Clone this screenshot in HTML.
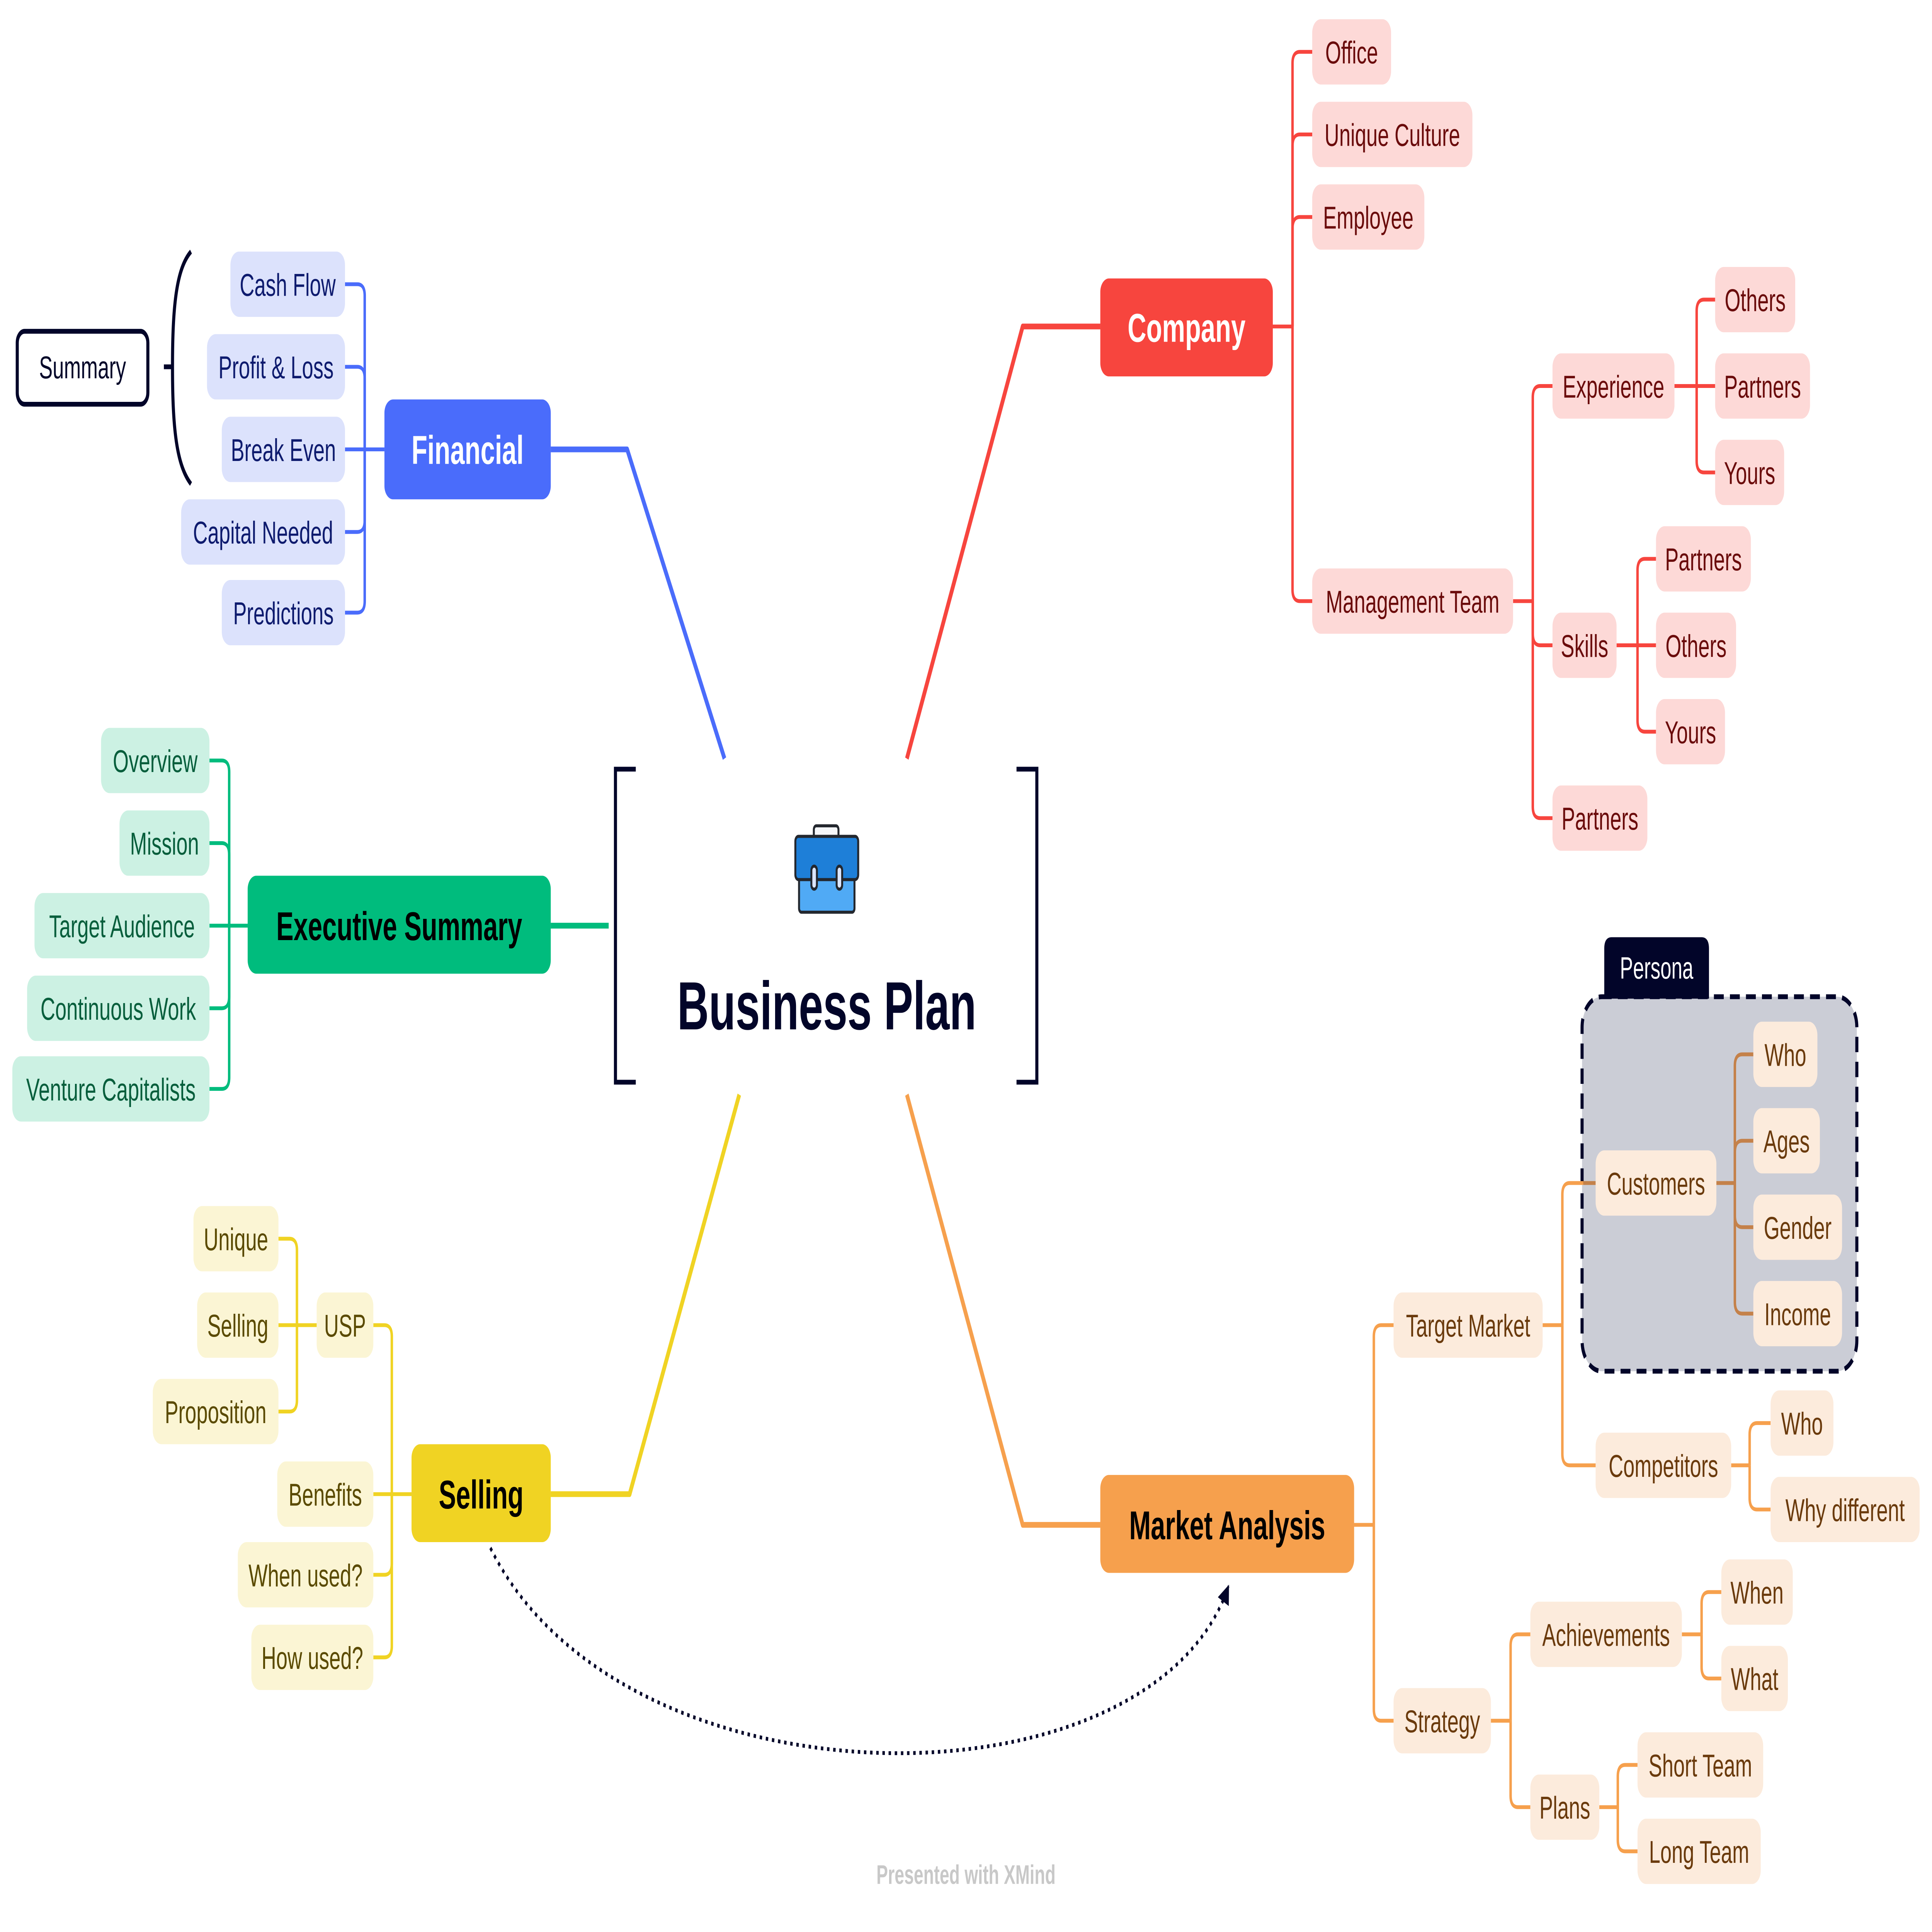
<!DOCTYPE html>
<html>
<head>
<meta charset="utf-8">
<style>
html,body{margin:0;padding:0;background:#ffffff;width:100%;height:100%;overflow:hidden;}
svg{display:block;width:100vw;height:100vh;}
text{font-family:"Liberation Sans",Arial,sans-serif;}
.c{font-size:16.5px;text-anchor:middle;}
.m{font-size:21px;font-weight:bold;text-anchor:middle;}
</style>
</head>
<body>
<svg xmlns="http://www.w3.org/2000/svg" viewBox="0 0 1568 1006" preserveAspectRatio="none">
<defs>
<marker id="arr" viewBox="0 0 10 10" refX="9" refY="5" markerWidth="5" markerHeight="5" orient="auto" markerUnits="strokeWidth">
<path d="M0,0 L10,5 L0,10 z" fill="#020529"/>
</marker>
</defs>
<rect x="0" y="0" width="1568" height="1006" fill="#ffffff"/>

<!-- Main connectors -->
<g fill="none" stroke-width="3" stroke-linejoin="round">
<path d="M447,234 H509 L588,395" stroke="#4A6CFB"/>
<path d="M736,395 L830,170 H893" stroke="#F7453E"/>
<path d="M447,482 H494" stroke="#00BC7D"/>
<path d="M600,570 L511,778 H447" stroke="#F0D323"/>
<path d="M736,570 L830,794 H893" stroke="#F6A04D"/>
</g>

<!-- Persona boundary -->
<rect x="1284" y="519" width="223" height="195" rx="16" fill="#CBCDD6" stroke="#020529" stroke-width="2.5" stroke-dasharray="8 5"/>
<path d="M1302,520 V494 Q1302,488 1308,488 H1381 Q1387,488 1387,494 V520 Z" fill="#020529"/>
<text x="1344.5" y="509.5" class="c" fill="#ffffff" style="font-size:16px">Persona</text>

<!-- Child connectors -->
<g fill="none" stroke-width="2" stroke-linejoin="round">
<g stroke="#4A6CFB">
<path d="M312,234 H280"/>
<path d="M296,234 V154 Q296,148 290,148 H280"/>
<path d="M296,234 V197 Q296,191 290,191 H280"/>
<path d="M296,234 V271 Q296,277 290,277 H280"/>
<path d="M296,234 V313 Q296,319 290,319 H280"/>
</g>
<g stroke="#00BC7D">
<path d="M201,482 H170"/>
<path d="M186,482 V402 Q186,396 180,396 H170"/>
<path d="M186,482 V445 Q186,439 180,439 H170"/>
<path d="M186,482 V519 Q186,525 180,525 H170"/>
<path d="M186,482 V561 Q186,567 180,567 H170"/>
</g>
<g stroke="#F0D323">
<path d="M334,778 H303"/>
<path d="M318,778 V696 Q318,690 312,690 H303"/>
<path d="M318,778 V814 Q318,820 312,820 H303"/>
<path d="M318,778 V857 Q318,863 312,863 H303"/>
<path d="M257,690 H226"/>
<path d="M241,690 V651 Q241,645 235,645 H226"/>
<path d="M241,690 V729 Q241,735 235,735 H226"/>
</g>
<g stroke="#F7453E">
<path d="M1033,170 H1049"/>
<path d="M1049,170 V33 Q1049,27 1055,27 H1065"/>
<path d="M1049,170 V76 Q1049,70 1055,70 H1065"/>
<path d="M1049,170 V119 Q1049,113 1055,113 H1065"/>
<path d="M1049,170 V307 Q1049,313 1055,313 H1065"/>
<path d="M1228,313 H1244"/>
<path d="M1244,313 V207 Q1244,201 1250,201 H1260"/>
<path d="M1244,313 V330 Q1244,336 1250,336 H1260"/>
<path d="M1244,313 V420 Q1244,426 1250,426 H1260"/>
<path d="M1359,201 H1392"/>
<path d="M1377,201 V162 Q1377,156 1383,156 H1392"/>
<path d="M1377,201 V240 Q1377,246 1383,246 H1392"/>
<path d="M1312,336 H1344"/>
<path d="M1329,336 V297 Q1329,291 1335,291 H1344"/>
<path d="M1329,336 V375 Q1329,381 1335,381 H1344"/>
</g>
<g stroke="#F6A04D">
<path d="M1099,794 H1115"/>
<path d="M1115,794 V696 Q1115,690 1121,690 H1131"/>
<path d="M1115,794 V890 Q1115,896 1121,896 H1131"/>
<path d="M1252,690 H1268"/>
<path d="M1268,690 V622 Q1268,616 1274,616 H1285"/>
<path d="M1268,690 V757 Q1268,763 1274,763 H1295"/>
<path d="M1405,763 H1420"/>
<path d="M1420,763 V747 Q1420,741 1426,741 H1437"/>
<path d="M1420,763 V780 Q1420,786 1426,786 H1437"/>
<path d="M1210,896 H1226"/>
<path d="M1226,896 V857 Q1226,851 1232,851 H1242"/>
<path d="M1226,896 V935 Q1226,941 1232,941 H1242"/>
<path d="M1365,851 H1381"/>
<path d="M1381,851 V835 Q1381,829 1387,829 H1397"/>
<path d="M1381,851 V868 Q1381,874 1387,874 H1397"/>
<path d="M1298,941 H1313"/>
<path d="M1313,941 V925 Q1313,919 1319,919 H1329"/>
<path d="M1313,941 V958 Q1313,964 1319,964 H1329"/>
</g>
<g stroke="#C4814A">
<path d="M1285,616 H1295"/>
<path d="M1393,616 H1408"/>
<path d="M1408,616 V555 Q1408,549 1414,549 H1423"/>
<path d="M1408,616 V600 Q1408,594 1414,594 H1423"/>
<path d="M1408,616 V633 Q1408,639 1414,639 H1423"/>
<path d="M1408,616 V678 Q1408,684 1414,684 H1423"/>
</g>
</g>

<!-- Summary + brace -->
<rect x="14" y="172.5" width="106" height="38" rx="6" fill="#ffffff" stroke="#020529" stroke-width="2.5"/>
<text x="67" y="197" class="c" fill="#020529">Summary</text>
<path d="M155,131 C143,140 140,160 140,191 C140,222 143,242 155,252" fill="none" stroke="#020529" stroke-width="2.5"/>
<path d="M133,191 H140" stroke="#020529" stroke-width="2.5"/>

<!-- Financial children -->
<g fill="#DCE2FC">
<rect x="187" y="131" width="93" height="34" rx="7"/>
<rect x="168" y="174" width="112" height="34" rx="7"/>
<rect x="180" y="217" width="100" height="34" rx="7"/>
<rect x="147" y="260" width="133" height="34" rx="7"/>
<rect x="180" y="302" width="100" height="34" rx="7"/>
</g>
<g fill="#0E1B6E">
<text x="233.5" y="154" class="c">Cash Flow</text>
<text x="224" y="197" class="c">Profit &amp; Loss</text>
<text x="230" y="240" class="c">Break Even</text>
<text x="213.5" y="283" class="c">Capital Needed</text>
<text x="230" y="325" class="c">Predictions</text>
</g>

<!-- Exec children -->
<g fill="#CCF1E3">
<rect x="82" y="379" width="88" height="34" rx="7"/>
<rect x="97" y="422" width="73" height="34" rx="7"/>
<rect x="28" y="465" width="142" height="34" rx="7"/>
<rect x="22" y="508" width="148" height="34" rx="7"/>
<rect x="10" y="550" width="160" height="34" rx="7"/>
</g>
<g fill="#075E3C">
<text x="126" y="402" class="c">Overview</text>
<text x="133.5" y="445" class="c">Mission</text>
<text x="99" y="488" class="c">Target Audience</text>
<text x="96" y="531" class="c">Continuous Work</text>
<text x="90" y="573" class="c">Venture Capitalists</text>
</g>

<!-- Selling children -->
<g fill="#FBF5D4">
<rect x="257" y="673" width="46" height="34" rx="7"/>
<rect x="225" y="761" width="78" height="34" rx="7"/>
<rect x="193" y="803" width="110" height="34" rx="7"/>
<rect x="204" y="846" width="99" height="34" rx="7"/>
<rect x="157" y="628" width="69" height="34" rx="7"/>
<rect x="160" y="673" width="66" height="34" rx="7"/>
<rect x="124" y="718" width="102" height="34" rx="7"/>
</g>
<g fill="#5A4A00">
<text x="280" y="696" class="c">USP</text>
<text x="264" y="784" class="c">Benefits</text>
<text x="248" y="826" class="c">When used?</text>
<text x="253.5" y="869" class="c">How used?</text>
<text x="191.5" y="651" class="c">Unique</text>
<text x="193" y="696" class="c">Selling</text>
<text x="175" y="741" class="c">Proposition</text>
</g>

<!-- Company children -->
<g fill="#FDD9D7">
<rect x="1065" y="10" width="64" height="34" rx="7"/>
<rect x="1065" y="53" width="130" height="34" rx="7"/>
<rect x="1065" y="96" width="91" height="34" rx="7"/>
<rect x="1065" y="296" width="163" height="34" rx="7"/>
<rect x="1260" y="184" width="99" height="34" rx="7"/>
<rect x="1260" y="319" width="52" height="34" rx="7"/>
<rect x="1260" y="409" width="77" height="34" rx="7"/>
<rect x="1392" y="139" width="65" height="34" rx="7"/>
<rect x="1392" y="184" width="77" height="34" rx="7"/>
<rect x="1392" y="229" width="56" height="34" rx="7"/>
<rect x="1344" y="274" width="77" height="34" rx="7"/>
<rect x="1344" y="319" width="65" height="34" rx="7"/>
<rect x="1344" y="364" width="56" height="34" rx="7"/>
</g>
<g fill="#6A0B0B">
<text x="1097" y="33" class="c">Office</text>
<text x="1130" y="76" class="c">Unique Culture</text>
<text x="1110.5" y="119" class="c">Employee</text>
<text x="1146.5" y="319" class="c">Management Team</text>
<text x="1309.5" y="207" class="c">Experience</text>
<text x="1286" y="342" class="c">Skills</text>
<text x="1298.5" y="432" class="c">Partners</text>
<text x="1424.5" y="162" class="c">Others</text>
<text x="1430.5" y="207" class="c">Partners</text>
<text x="1420" y="252" class="c">Yours</text>
<text x="1382.5" y="297" class="c">Partners</text>
<text x="1376.5" y="342" class="c">Others</text>
<text x="1372" y="387" class="c">Yours</text>
</g>

<!-- Market children -->
<g fill="#FCEBDC">
<rect x="1131" y="673" width="121" height="34" rx="7"/>
<rect x="1131" y="879" width="79" height="34" rx="7"/>
<rect x="1295" y="599" width="98" height="34" rx="7"/>
<rect x="1295" y="746" width="110" height="34" rx="7"/>
<rect x="1423" y="532" width="52" height="34" rx="7"/>
<rect x="1423" y="577" width="54" height="34" rx="7"/>
<rect x="1423" y="622" width="72" height="34" rx="7"/>
<rect x="1423" y="667" width="72" height="34" rx="7"/>
<rect x="1437" y="724" width="51" height="34" rx="7"/>
<rect x="1437" y="769" width="121" height="34" rx="7"/>
<rect x="1242" y="834" width="123" height="34" rx="7"/>
<rect x="1242" y="924" width="56" height="34" rx="7"/>
<rect x="1397" y="812" width="58" height="34" rx="7"/>
<rect x="1397" y="857" width="54" height="34" rx="7"/>
<rect x="1329" y="902" width="102" height="34" rx="7"/>
<rect x="1329" y="947" width="100" height="34" rx="7"/>
</g>
<g fill="#6A3A0C">
<text x="1191.5" y="696" class="c">Target Market</text>
<text x="1170.5" y="902" class="c">Strategy</text>
<text x="1344" y="622" class="c">Customers</text>
<text x="1350" y="769" class="c">Competitors</text>
<text x="1449" y="555" class="c">Who</text>
<text x="1450" y="600" class="c">Ages</text>
<text x="1459" y="645" class="c">Gender</text>
<text x="1459" y="690" class="c">Income</text>
<text x="1462.5" y="747" class="c">Who</text>
<text x="1497.5" y="792" class="c">Why different</text>
<text x="1303.5" y="857" class="c">Achievements</text>
<text x="1270" y="947" class="c">Plans</text>
<text x="1426" y="835" class="c">When</text>
<text x="1424" y="880" class="c">What</text>
<text x="1380" y="925" class="c">Short Team</text>
<text x="1379" y="970" class="c">Long Team</text>
</g>

<!-- Main topics -->
<rect x="312" y="208" width="135" height="52" rx="7" fill="#4A6CFB"/>
<text x="379.5" y="241.5" class="m" fill="#ffffff">Financial</text>
<rect x="201" y="456" width="246" height="51" rx="7" fill="#00BC7D"/>
<text x="324" y="489.5" class="m" fill="#000000">Executive Summary</text>
<rect x="334" y="752" width="113" height="51" rx="7" fill="#F0D323"/>
<text x="390.5" y="785.5" class="m" fill="#000000">Selling</text>
<rect x="893" y="145" width="140" height="51" rx="7" fill="#F7453E"/>
<text x="963" y="178" class="m" fill="#ffffff">Company</text>
<rect x="893" y="768" width="206" height="51" rx="7" fill="#F6A04D"/>
<text x="996" y="801.5" class="m" fill="#000000">Market Analysis</text>

<!-- Central topic -->
<path d="M516,400.5 H499.5 V563.5 H516" fill="none" stroke="#020529" stroke-width="2.5"/>
<path d="M825,400.5 H841.5 V563.5 H825" fill="none" stroke="#020529" stroke-width="2.5"/>
<g stroke="#23272E" stroke-width="1.6">
<rect x="660.5" y="430" width="20" height="9" rx="2" fill="#F5F7FA"/>
<rect x="648.5" y="455" width="45" height="20" rx="2" fill="#50AAF5"/>
<rect x="645.5" y="435.5" width="51" height="22.5" rx="2.5" fill="#1E7FD8"/>
<rect x="658.5" y="451" width="4.5" height="12" rx="2.2" fill="#DCE6FF"/>
<rect x="679" y="451" width="4.5" height="12" rx="2.2" fill="#DCE6FF"/>
</g>
<text x="671" y="536" style="font-size:35.5px;font-weight:bold;text-anchor:middle" fill="#020529">Business Plan</text>

<!-- Relationship -->
<path d="M398,806 C505,945 935,945 997,826" fill="none" stroke="#020529" stroke-width="2" stroke-dasharray="2 3" marker-end="url(#arr)"/>

<text x="784" y="981" style="font-size:14px;font-weight:bold;text-anchor:middle" fill="#C8C8C8">Presented with XMind</text>
</svg>
</body>
</html>
